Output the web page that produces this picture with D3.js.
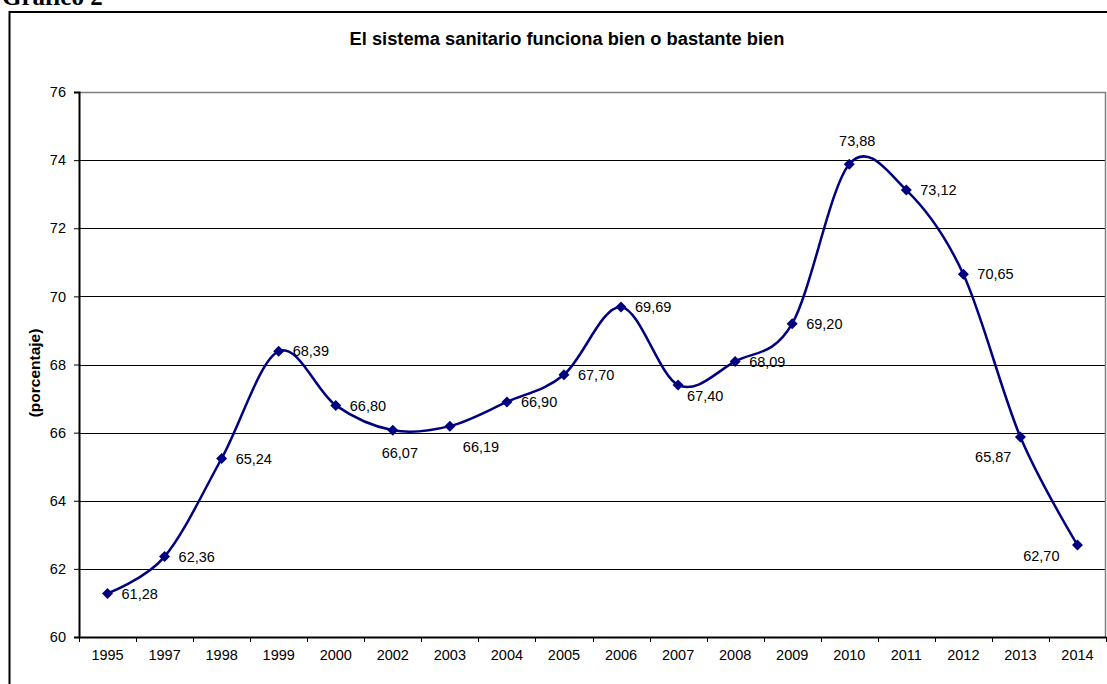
<!DOCTYPE html>
<html>
<head>
<meta charset="utf-8">
<script src="https://cdn.jsdelivr.net/npm/d3@7"></script>
<style>
  html, body { margin: 0; padding: 0; background: #fff; }
  svg { display: block; }
</style>
</head>
<body>
<svg id="chart" width="1107" height="684"></svg>
<script>
// ---- data ----
const years = ["1995","1997","1998","1999","2000","2002","2003","2004","2005","2006","2007","2008","2009","2010","2011","2012","2013","2014"];
const values = [61.28, 62.36, 65.24, 68.39, 66.80, 66.07, 66.19, 66.90, 67.70, 69.69, 67.40, 68.09, 69.20, 73.88, 73.12, 70.65, 65.87, 62.70];
const yTicks = [60, 62, 64, 66, 68, 70, 72, 74, 76];
const labelPlacement = ["r","r","r","r","r","b","br","r","r","r","br2","r","r","a","r","r","bl","bl2"];
const titleText = "El sistema sanitario funciona bien o bastante bien";
const yTitle = "(porcentaje)";
const captionText = "Gráfico 2";

// ---- layout ----
const svg = d3.select("#chart");
const L = 79, R = 1106, T = 92, B = 637;
const navy = "#000080";
const font = "Arial, 'Liberation Sans', sans-serif";
const fs = 14.5;

const x = d3.scaleBand().domain(years).range([L, R]).paddingInner(0).paddingOuter(0);
const cx = d => x(d) + x.bandwidth() / 2;
const y = d3.scaleLinear().domain([60, 76]).range([B, T]);

// caption (cut at the top edge as in the original)
svg.append("text").attr("x", 2).attr("y", 5)
  .attr("font-family", "'Liberation Serif', 'Times New Roman', serif")
  .attr("font-weight", "bold").attr("font-size", 25).text(captionText);

// outer chart border
svg.append("path").attr("d", `M9.5,700 V12 H1120`)
  .attr("fill", "none").attr("stroke", "#000").attr("stroke-width", 2);

// title
svg.append("text").attr("x", 567).attr("y", 45).attr("text-anchor", "middle")
  .attr("font-family", font).attr("font-weight", "bold").attr("font-size", 18.3)
  .text(titleText);

// gridlines
svg.append("g").selectAll("line").data(yTicks.filter(t => t > 60 && t < 76)).join("line")
  .attr("x1", L).attr("x2", R)
  .attr("y1", d => Math.round(y(d)) + 0.5).attr("y2", d => Math.round(y(d)) + 0.5)
  .attr("stroke", "#000").attr("stroke-width", 1);

// plot border (top & right)
svg.append("path").attr("d", `M${L},${Math.round(T)+0.5} H${R-0.5} V${B}`)
  .attr("fill", "none").attr("stroke", "#808080").attr("stroke-width", 1.5);

// y axis
const yAxis = d3.axisLeft(y).tickValues(yTicks).tickSize(5).tickPadding(8).tickFormat(d3.format("d"));
const gy = svg.append("g").attr("transform", `translate(${L},0)`).call(yAxis);
gy.select(".domain").attr("stroke", "#000").attr("stroke-width", 2);
gy.selectAll(".tick line").attr("stroke", "#000").attr("stroke-width", 1);
gy.selectAll(".tick text").attr("font-family", font).attr("font-size", fs).attr("fill", "#000");

// x axis
const xAxis = d3.axisBottom(x).tickSize(0).tickPadding(13);
const gx = svg.append("g").attr("transform", `translate(0,${B})`).call(xAxis);
gx.select(".domain").attr("stroke", "#000").attr("stroke-width", 2);
gx.selectAll(".tick text").attr("font-family", font).attr("font-size", fs).attr("fill", "#000");
// boundary tick marks
const bounds = years.map(d => x(d)).concat([R]);
svg.append("g").selectAll("line").data(bounds).join("line")
  .attr("x1", d => Math.round(d) + 0.5).attr("x2", d => Math.round(d) + 0.5)
  .attr("y1", B).attr("y2", B + 5).attr("stroke", "#000").attr("stroke-width", 1);

// y axis title
svg.append("text").attr("transform", `translate(40,373) rotate(-90)`)
  .attr("text-anchor", "middle").attr("font-family", font).attr("font-weight", "bold")
  .attr("font-size", 15.5).text(yTitle);

// line
const pts = years.map((d, i) => ({ year: d, v: values[i], place: labelPlacement[i] }));
const line = d3.line().x(d => cx(d.year)).y(d => y(d.v)).curve(d3.curveCardinal.tension(0));
svg.append("path").datum(pts).attr("d", line)
  .attr("fill", "none").attr("stroke", navy).attr("stroke-width", 2.5);

// markers
const s = 5.5;
svg.append("g").selectAll("path").data(pts).join("path")
  .attr("d", d => { const px = cx(d.year), py = y(d.v);
    return `M${px},${py - s} L${px + s},${py} L${px},${py + s} L${px - s},${py} Z`; })
  .attr("fill", navy);

// labels
const place = {
  r:   { dx: 14,  dy: 0,   anchor: "start" },
  b:   { dx: 7,   dy: 23,  anchor: "middle" },
  br:  { dx: 13,  dy: 21,  anchor: "start" },
  br2: { dx: 9,   dy: 11,  anchor: "start" },
  a:   { dx: 8,   dy: -23, anchor: "middle" },
  bl:  { dx: -9,  dy: 20,  anchor: "end" },
  bl2: { dx: -18, dy: 11,  anchor: "end" }
};
const fmt = v => v.toFixed(2).replace(".", ",");
svg.append("g").selectAll("text").data(pts).join("text")
  .attr("x", d => cx(d.year) + place[d.place].dx)
  .attr("y", d => y(d.v) + place[d.place].dy)
  .attr("dy", "0.36em")
  .attr("text-anchor", d => place[d.place].anchor)
  .attr("font-family", font).attr("font-size", fs).attr("fill", "#000")
  .text(d => fmt(d.v));
</script>
</body>
</html>
